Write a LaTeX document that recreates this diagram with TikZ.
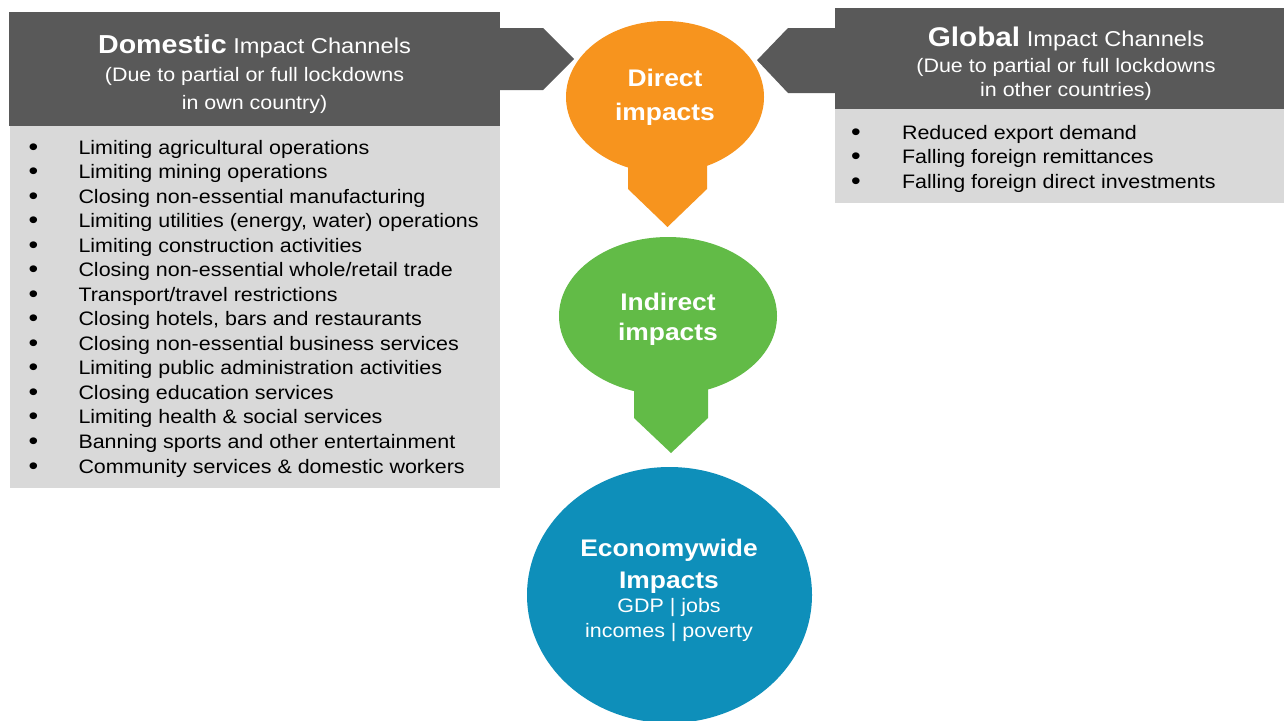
\documentclass[tikz,border=0pt]{standalone}
\usepackage{fontspec}
\setmainfont{Liberation Sans}[FakeStretch=1.1]
\usetikzlibrary{shapes.geometric,calc}
\definecolor{hdr}{HTML}{595959}
\definecolor{lst}{HTML}{D9D9D9}
\definecolor{org}{HTML}{F7941E}
\definecolor{grn}{HTML}{62BB47}
\definecolor{blu}{HTML}{0E8FBA}
\begin{document}
\begin{tikzpicture}[x=1pt,y=-1pt,
  box/.style={rectangle, inner sep=0pt, outer sep=0pt},
  blob/.style={ellipse, inner sep=0pt, outer sep=0pt},
  hline/.style={inner sep=0pt, outer sep=0pt, anchor=base, text=white},
  sub/.style={hline, font=\fontsize{19.5}{24}\selectfont},
  wbold/.style={hline, font=\fontsize{24}{28}\selectfont\bfseries},
  wreg/.style={hline, font=\fontsize{19.5}{24}\selectfont},
  bul/.style={inner sep=0pt, outer sep=0pt, anchor=base, font=\fontsize{25}{28}\selectfont},
  item/.style={inner sep=0pt, outer sep=0pt, anchor=base west, font=\fontsize{19.5}{24}\selectfont}]
\useasboundingbox[fill=white] (0,0) rectangle (1284,720);

% panels
\node[box, fill=hdr, minimum width=491pt, minimum height=114pt] (domhdr) at (254.5,69) {};
\node[box, fill=lst, minimum width=490pt, minimum height=362pt] (domlst) at (255,307) {};
\node[box, fill=hdr, minimum width=449pt, minimum height=101.5pt] (glbhdr) at (1059.5,58.25) {};
\node[box, fill=lst, minimum width=449pt, minimum height=94pt] (glblst) at (1059.5,156) {};

% impact nodes
\node[blob, fill=org, minimum width=198pt, minimum height=152pt] (direct) at (665,97) {};
\node[blob, fill=grn, minimum width=218pt, minimum height=158pt] (indirect) at (668,316) {};
\node[blob, fill=blu, minimum width=285pt, minimum height=256pt] (econ) at (669.5,595) {};

% header arrows
\coordinate (lapex) at (574,59);
\coordinate (rapex) at (757,60.2);
\fill[hdr] ($(domhdr.north east)+(0,16)$) -- ($(domhdr.north east)+(43,16)$) -- (lapex)
  -- ($(domhdr.north east)+(43,78)$) -- ($(domhdr.north east)+(0,78)$) -- cycle;
\fill[hdr] ($(glbhdr.north west)+(0,20.5)$) -- ($(glbhdr.north west)+(-47,20.5)$) -- (rapex)
  -- ($(glbhdr.north west)+(-47,85.5)$) -- ($(glbhdr.north west)+(0,85.5)$) -- cycle;

% down arrows
\fill[org] ($(direct.center)+(-37,40)$) -- ($(direct.center)+(-37,92)$) -- ($(indirect.north)+(-0.5,-10)$)
  -- ($(direct.center)+(42,92)$) -- ($(direct.center)+(42,40)$) -- cycle;
\fill[grn] ($(indirect.center)+(-34,64)$) -- ($(indirect.center)+(-34,102)$) -- ($(econ.north)+(1.5,-14)$)
  -- ($(indirect.center)+(40,102)$) -- ($(indirect.center)+(40,64)$) -- cycle;

% header texts
\node[hline] (domt1) at (254.5,53.3) {\fontsize{26}{28}\selectfont\bfseries Domestic\fontsize{21.5}{26}\selectfont\mdseries{} Impact Channels};
\node[sub] (domt2) at (254.5,81) {(Due to partial or full lockdowns};
\node[sub] (domt3) at (254.5,109.3) {in own country)};
\node[hline] (glbt1) at (1066,46.7) {\fontsize{27}{28}\selectfont\bfseries Global\fontsize{21.5}{26}\selectfont\mdseries{} Impact Channels};
\node[sub] (glbt2) at (1066,72.5) {(Due to partial or full lockdowns};
\node[sub] (glbt3) at (1066,96) {in other countries)};

% lists
\foreach \t [count=\i from 0] in {Limiting agricultural operations, Limiting mining operations,
  Closing non-essential manufacturing, {Limiting utilities (energy, water) operations},
  Limiting construction activities, Closing non-essential whole/retail trade,
  Transport/travel restrictions, {Closing hotels, bars and restaurants},
  Closing non-essential business services, Limiting public administration activities,
  Closing education services, Limiting health \& social services,
  Banning sports and other entertainment, Community services \& domestic workers}{
  \node[bul] (db\i) at (33.5,155+24.54*\i) {•};
  \node[item] (dt\i) at (78.5,154+24.54*\i) {\t};
}
\foreach \t [count=\i from 0] in {Reduced export demand, Falling foreign remittances,
  Falling foreign direct investments}{
  \node[bul] (gb\i) at (856,140.3+24.5*\i) {•};
  \node[item] (gt\i) at (902,139.3+24.5*\i) {\t};
}

% impact texts
\node[wbold] (dirt1) at (665,86) {Direct};
\node[wbold] (dirt2) at (665,120) {impacts};
\node[wbold] (indt1) at (668,310) {Indirect};
\node[wbold] (indt2) at (668,340) {impacts};
\node[wbold] (ect1) at (669,556.7) {Economywide};
\node[wbold] (ect2) at (669,588) {Impacts};
\node[wreg] (ect3) at (669,612.7) {GDP | jobs};
\node[wreg] (ect4) at (669,637) {incomes | poverty};
\end{tikzpicture}
\end{document}
